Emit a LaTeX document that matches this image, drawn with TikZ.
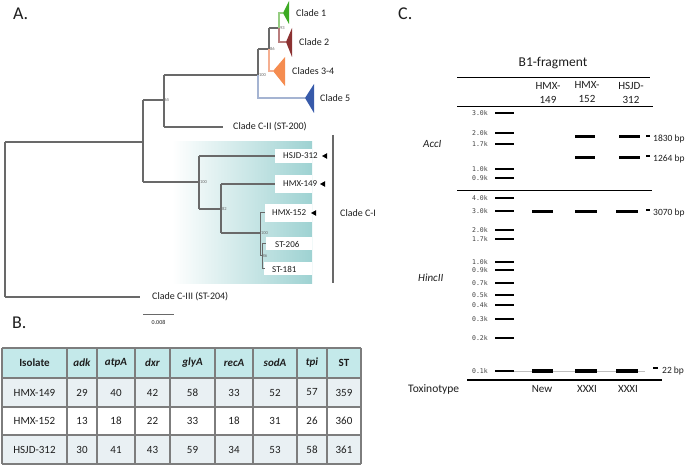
\documentclass[tikz,border=0pt]{standalone}
\usepackage{fontspec}
\setmainfont{Carlito}
\newfontfamily\ladfont{DejaVu Sans Mono}
\definecolor{treeg}{RGB}{105,105,105}
\definecolor{txt}{RGB}{30,30,30}
\definecolor{teal1}{RGB}{158,210,210}
\definecolor{grnF}{RGB}{60,170,35}
\definecolor{grnL}{RGB}{150,205,130}
\definecolor{brnF}{RGB}{140,50,50}
\definecolor{brnL}{RGB}{185,125,125}
\definecolor{orgF}{RGB}{245,140,80}
\definecolor{orgL}{RGB}{245,175,145}
\definecolor{bluF}{RGB}{55,90,170}
\definecolor{bluL}{RGB}{165,180,210}
\definecolor{hdrF}{RGB}{196,233,234}
\definecolor{rowF}{RGB}{233,240,243}
\definecolor{tblL}{RGB}{125,125,125}
\tikzset{
  br/.style={draw=treeg,line width=1.1pt},
  lab/.style={anchor=west,inner sep=0pt,text=txt,font=\fontsize{10}{12}\selectfont},
  slab/.style={anchor=west,inner sep=0pt,text=txt,font=\fontsize{9}{11}\selectfont},
  sup/.style={anchor=west,inner sep=0.3pt,text=treeg,font=\fontsize{4.5}{5}\selectfont},
  panel/.style={anchor=west,inner sep=0pt,text=txt,font=\fontsize{18}{20}\selectfont},
  wbox/.style={fill=white,draw=none},
  tc/.style={inner sep=0pt,text=txt,font=\fontsize{11}{13}\selectfont},
  tline/.style={draw=tblL,line width=1.1pt},
  lad/.style={line width=2.6pt,black},
  band/.style={line width=3pt,black},
  ladlab/.style={anchor=east,inner sep=0pt,text=black!75,font=\ladfont\fontsize{6.5}{7}\selectfont},
  bplab/.style={anchor=west,inner sep=0pt,text=txt,font=\fontsize{9.5}{11}\selectfont},
  gtxt/.style={inner sep=0pt,text=txt,font=\fontsize{11}{14}\selectfont},
  arr/.style={fill=black},
}
\begin{document}
\begin{tikzpicture}[x=1pt,y=-1pt]
\useasboundingbox (0,0) rectangle (685,468);
\fill[white] (0,0) rectangle (685,468);

% ---------------- Panel A ----------------
\node[panel] (pA) at (13,14) {A.};

% gradient background for clade C-I
\shade[left color=white,right color=teal1] (172,142) rectangle (312,283);

% white label boxes
\fill[wbox] (275,149) rectangle (312,163);
\fill[wbox] (275,175) rectangle (312,193);
\fill[wbox] (265,204) rectangle (312,222);
\fill[wbox] (266,237) rectangle (312,250);
\fill[wbox] (264,262) rectangle (312,275);

% backbone
\draw[br] (5,142) -- (5,297);
\draw[br] (5,142) -- (143,142);
\draw[br] (5,297) -- (140,297);
\draw[br] (143,100) -- (143,182);
\draw[br] (143,100) -- (164,100);
\draw[br] (143,182) -- (199,182);
\draw[br] (164,75) -- (164,127);
\draw[br] (164,127) -- (223,127);
\draw[br] (164,75) -- (258,75);
% upper clades
\draw[br] (258,49) -- (258,75);
\draw[br,draw=bluL] (258,75) -- (258,98) -- (305,98);
\draw[br] (258,49) -- (269,49);
\draw[br] (269,28) -- (269,49);
\draw[br,draw=orgL] (269,49) -- (269,71) -- (273,71);
\draw[br] (269,28) -- (279,28);
\draw[br,draw=grnL] (279,28) -- (279,13) -- (283,13);
\draw[br,draw=brnL] (279,28) -- (279,42) -- (286,42);
% collapsed clade triangles
\fill[grnF] (283,13) -- (289,1) -- (289,24) -- cycle;
\fill[brnF] (286,42) -- (292,28) -- (292,57) -- cycle;
\fill[orgF] (273,71) -- (285,57) -- (285,86) -- cycle;
\fill[bluF] (305,98) -- (314,84) -- (314,113) -- cycle;
\node[lab] (c1) at (296,13) {Clade 1};
\node[lab] (c2) at (299,42) {Clade 2};
\node[lab] (c34) at (292,71) {Clades 3-4};
\node[lab] (c5) at (320,98) {Clade 5};
\node[lab] (cII) at (233,127) {Clade C-II (ST-200)};
\node[lab] (cIII) at (152,297) {Clade C-III (ST-204)};

% clade C-I subtree
\draw[br] (199,156) -- (199,209);
\draw[br] (199,156) -- (275,156);
\draw[br] (199,209) -- (221,209);
\draw[br] (221,184) -- (221,233);
\draw[br] (221,184) -- (275,184);
\draw[br] (221,233) -- (260,233);
\draw[br,line width=0.9pt] (260,212) -- (260,255);
\draw[br,line width=0.9pt] (260,212) -- (265,212);
\draw[br,line width=0.9pt] (260,255) -- (262,255);
\draw[br,line width=0.9pt] (262,243) -- (262,268);
\draw[br,line width=0.9pt] (262,243) -- (266,243);
\draw[br,line width=0.9pt] (262,268) -- (265,268);

\node[slab] (hsjd) at (283,156) {HSJD-312};
\node[slab] (h149) at (283,184) {HMX-149};
\node[slab] (h152) at (272,213) {HMX-152};
\node[slab] (s206) at (275,244) {ST-206};
\node[slab] (s181) at (272,269) {ST-181};
\fill[arr] (322,156) -- (327,153.2) -- (327,158.8) -- cycle;
\fill[arr] (320,184) -- (325,181.2) -- (325,186.8) -- cycle;
\fill[arr] (311,213) -- (316,210.2) -- (316,215.8) -- cycle;

% support values
\node[sup] (b65) at (164,100) {65};
\node[sup] (b100a) at (258.5,75) {100};
\node[sup] (b86a) at (269.5,49) {86};
\node[sup] (b93) at (279.5,28) {93};
\node[sup] (b100b) at (199.5,182) {100};
\node[sup] (b82) at (221.5,209) {82};
\node[sup] (b100c) at (260.5,233) {100};
\node[sup] (b86b) at (262,256) {86};

% clade C-I bracket
\draw[draw=treeg,line width=1.4pt] (333,135) -- (333,283);
\node[lab] (cI) at (340,213) {Clade C-I};

% scale bar
\draw[draw=treeg,line width=1pt] (143,314) -- (174,314);
\node[inner sep=0pt,text=txt,font=\fontsize{6}{7}\selectfont] (scl) at (158.5,322) {0.008};

% ---------------- Panel B ----------------
\node[panel] (pB) at (12,323) {B.};
\fill[hdrF] (2,348) rectangle (361,378);
\fill[rowF] (2,378) rectangle (361,407);
\fill[white] (2,407) rectangle (361,435);
\fill[rowF] (2,435) rectangle (361,464);
\foreach \yy in {348,378,407,435,464} \draw[tline] (2,\yy) -- (361,\yy);
\foreach \xx in {2,67,97,135,170,215,253,297,327,361} \draw[tline] (\xx,348) -- (\xx,464);
\foreach \x/\h/\a/\b/\c [count=\i] in {
  34.5/{\textbf{Isolate}}/HMX-149/HMX-152/HSJD-312,
  82/{\textbf{\textit{adk}}}/29/13/30,
  116/{\textbf{\textit{atpA}}}/40/18/41,
  152.5/{\textbf{\textit{dxr}}}/42/22/43,
  192.5/{\textbf{\textit{glyA}}}/58/33/59,
  234/{\textbf{\textit{recA}}}/33/18/34,
  275/{\textbf{\textit{sodA}}}/52/31/53,
  312/{\textbf{\textit{tpi}}}/57/26/58,
  344/{\textbf{ST}}/359/360/361}{
  \node[tc] (th\i) at (\x,363) {\h};
  \node[tc] (ta\i) at (\x,392.5) {\a};
  \node[tc] (tb\i) at (\x,421) {\b};
  \node[tc] (tc\i) at (\x,449.5) {\c};
}

% ---------------- Panel C ----------------
\node[panel] (pC) at (398,14) {C.};
\node[inner sep=0pt,text=txt,font=\fontsize{13.5}{15}\selectfont] (frag) at (553,63) {B1-fragment};
\draw[line width=1pt] (457,78) -- (650,78);
\node[gtxt,align=center] (g149) at (548,92.5) {HMX-\\149};
\node[gtxt,align=center] (g152) at (587,92.5) {HMX-\\152};
\node[gtxt,align=center] (g312) at (631,92.5) {HSJD-\\312};
\draw[line width=1pt] (457,107) -- (653,107);
\draw[line width=0.9pt] (457,190) -- (652,190);
\draw[line width=0.7pt,black!25] (514,371) -- (645,371);
\draw[line width=1.4pt] (467,380) -- (662,380);

\node[gtxt,anchor=west,font=\fontsize{11}{13}\selectfont\itshape] (acc) at (423,144) {AccI};
\node[gtxt,anchor=west,font=\fontsize{11}{13}\selectfont\itshape] (hinc) at (418,278) {HincII};

% ladders
\foreach \yy/\t in {113/3.0k,133/2.0k,144/1.7k,169/1.0k,178/0.9k,
  198/4.0k,211/3.0k,230/2.0k,239/1.7k,262/1.0k,270/0.9k,283/0.7k,295/0.5k,305/0.4k,319/0.3k,338/0.2k,371/0.1k}{
  \draw[lad] (495,\yy) -- (514,\yy);
  \node[ladlab] at (488,\yy) {\t};
}
% sample bands
\draw[band] (575,137) -- (595,137);
\draw[band] (619,137) -- (640,137);
\draw[band] (575,157) -- (595,157);
\draw[band] (619,157) -- (640,157);
\draw[band] (532,211) -- (553,211);
\draw[band] (575,211) -- (597,211);
\draw[band] (616,211) -- (638,211);
\draw[line width=4pt] (532,371) -- (553,371);
\draw[line width=4pt] (575,371) -- (597,371);
\draw[line width=4pt] (616,371) -- (638,371);

% size marks
\draw[line width=1.2pt] (646,136) -- (650,136);
\node[bplab] (bp1830) at (653,139) {1830 bp};
\draw[line width=1.2pt] (646,156) -- (650,156);
\node[bplab] (bp1264) at (653,158.5) {1264 bp};
\draw[line width=1.2pt] (646,210) -- (650,210);
\node[bplab] (bp3070) at (653,212.5) {3070 bp};
\draw[line width=1.2pt] (653,368) -- (658,368);
\node[bplab] (bp22) at (662,370.5) {22 bp};

\node[gtxt,anchor=west,font=\fontsize{11.5}{13}\selectfont] (tox) at (408,389) {Toxinotype};
\node[gtxt] (tn) at (542,389) {New};
\node[gtxt] (tx1) at (587,389) {XXXI};
\node[gtxt] (tx2) at (628,389) {XXXI};
\end{tikzpicture}
\end{document}
